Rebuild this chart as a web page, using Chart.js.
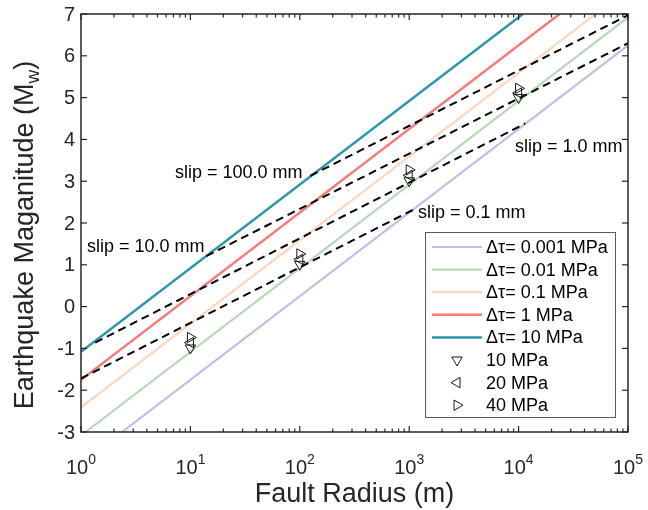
<!DOCTYPE html>
<html>
<head>
<meta charset="utf-8">
<script src="https://cdn.jsdelivr.net/npm/chart.js@4.4.1/dist/chart.umd.min.js"></script>
<style>
  html, body { margin: 0; padding: 0; background: #fff; }
</style>
</head>
<body>
<canvas id="magChart" width="648" height="510"></canvas>
<script>
// ---- data ----
const stressLabels = ["Δτ= 0.001 MPa", "Δτ= 0.01 MPa", "Δτ= 0.1 MPa", "Δτ= 1 MPa", "Δτ= 10 MPa"];
const stressX = [[2.37, 100000], [1.1, 100000], [1, 50700], [1, 23700], [1, 10960]];
const stressY = [[-3, 6.25], [-3, 6.92], [-2.41, 7], [-1.75, 7], [-1.08, 7]];

const slipLabels = ["slip = 0.1 mm", "slip = 1.0 mm", "slip = 10.0 mm", "slip = 100.0 mm"];
const slipX = [[1, 1150], [1.35, 11500], [14, 100000], [125, 100000]];
const slipY = [[-1.72, 2.35], [-0.86, 4.38], [1.21, 6.3], [3.13, 6.97]];

const markerLabels = ["10 MPa", "20 MPa", "40 MPa"];
const markerX = [10, 100, 1000, 10000];
const mark10 = [-0.99, 1.01, 3.01, 5.0];
const mark20 = [-0.86, 1.13, 3.14, 5.11];
const mark40 = [-0.74, 1.26, 3.27, 5.22];

const yTicks = [-3, -2, -1, 0, 1, 2, 3, 4, 5, 6, 7];
const xTickPowers = [0, 1, 2, 3, 4, 5];

// ---- styling ----
const FONT = "'Liberation Sans', Arial, sans-serif";
const AXIS = "#262626";
const stressColors = ["#c9b8e8", "#b6d8b4", "#fdd5bd", "#f47c7c", "#2c97ab"];
const markerRot = [180, 270, 90];

// where the slip notes sit (data coords of text start / baseline)
const noteAnchors = [[1203, 2.12], [9270, 3.71], [1.135, 1.31], [7.23, 3.08]];

const pairs = (xs, ys) => xs.map((v, i) => ({ x: v, y: ys[i] }));

const datasets = [];
stressLabels.forEach((lab, i) => {
  datasets.push({
    label: lab, data: pairs(stressX[i], stressY[i]), showLine: true,
    borderColor: stressColors[i], borderWidth: i >= 3 ? 2.5 : 2.2, pointRadius: 0, order: 3,
    legendKind: "line"
  });
});
slipLabels.forEach((lab, i) => {
  datasets.push({
    label: lab, data: pairs(slipX[i], slipY[i]), showLine: true,
    borderColor: "#000", borderWidth: 2, borderDash: [8, 5], pointRadius: 0, order: 2
  });
});
[mark10, mark20, mark40].forEach((vals, i) => {
  datasets.push({
    label: markerLabels[i], data: pairs(markerX, vals), showLine: false,
    pointStyle: "triangle", pointRotation: markerRot[i], pointRadius: 6,
    pointBorderColor: "#000", pointBorderWidth: 0.9, pointBackgroundColor: "rgba(0,0,0,0)",
    order: 1, legendKind: "marker", rot: markerRot[i]
  });
});

function tri(ctx, cx, cy, r, deg) {
  const rad = deg * Math.PI / 180;
  ctx.beginPath();
  for (let k = 0; k < 3; k++) {
    const a = rad + k * 2 * Math.PI / 3;
    const px = cx + Math.sin(a) * r, py = cy - Math.cos(a) * r;
    if (k === 0) ctx.moveTo(px, py); else ctx.lineTo(px, py);
  }
  ctx.closePath();
  ctx.stroke();
}

function seg(ctx, x1, y1, x2, y2) {
  ctx.beginPath(); ctx.moveTo(x1, y1); ctx.lineTo(x2, y2); ctx.stroke();
}

const decor = {
  id: "decor",
  afterDraw(chart) {
    const { ctx, chartArea: a } = chart;
    const xs = chart.scales.x, ys = chart.scales.y;
    ctx.save();

    // axes box
    ctx.strokeStyle = AXIS;
    ctx.lineWidth = 1.5;
    ctx.strokeRect(a.left, a.top, a.right - a.left, a.bottom - a.top);

    // ticks (inward, all four sides)
    ctx.lineWidth = 1.2;
    yTicks.forEach(v => {
      const py = ys.getPixelForValue(v);
      seg(ctx, a.left, py, a.left + 6, py);
      seg(ctx, a.right, py, a.right - 6, py);
    });
    xTickPowers.forEach((p, i) => {
      const px = xs.getPixelForValue(Math.pow(10, p));
      seg(ctx, px, a.bottom, px, a.bottom - 6);
      seg(ctx, px, a.top, px, a.top + 6);
      if (i < xTickPowers.length - 1) {
        for (let m = 2; m <= 9; m++) {
          const mx = xs.getPixelForValue(m * Math.pow(10, p));
          seg(ctx, mx, a.bottom, mx, a.bottom - 3.5);
          seg(ctx, mx, a.top, mx, a.top + 3.5);
        }
      }
    });

    // tick labels
    ctx.fillStyle = AXIS;
    ctx.font = "20px " + FONT;
    ctx.textAlign = "right";
    ctx.textBaseline = "middle";
    yTicks.forEach(v => ctx.fillText(String(v), a.left - 6, ys.getPixelForValue(v) + 1));

    ctx.textBaseline = "alphabetic";
    ctx.textAlign = "left";
    xTickPowers.forEach(p => {
      const px = xs.getPixelForValue(Math.pow(10, p));
      ctx.font = "20px " + FONT;
      const wb = ctx.measureText("10").width;
      ctx.font = "14px " + FONT;
      const ws = ctx.measureText(String(p)).width;
      const x0 = px - (wb + ws) / 2;
      ctx.font = "20px " + FONT;
      ctx.fillText("10", x0, a.bottom + 42);
      ctx.font = "14px " + FONT;
      ctx.fillText(String(p), x0 + wb, a.bottom + 32);
    });

    // axis titles
    ctx.font = "27px " + FONT;
    ctx.textAlign = "center";
    ctx.fillText("Fault Radius (m)", (a.left + a.right) / 2, 502);

    ctx.save();
    ctx.translate(33, 235);
    ctx.rotate(-Math.PI / 2);
    ctx.textAlign = "left";
    const t1 = "Earthquake Maganitude (M", t2 = "w", t3 = ")";
    ctx.font = "27px " + FONT;
    const w1 = ctx.measureText(t1).width, w3 = ctx.measureText(t3).width;
    ctx.font = "19px " + FONT;
    const w2 = ctx.measureText(t2).width;
    let cx = -(w1 + w2 + w3) / 2;
    ctx.font = "27px " + FONT;
    ctx.fillText(t1, cx, 0);
    ctx.font = "19px " + FONT;
    ctx.fillText(t2, cx + w1, 6);
    ctx.font = "27px " + FONT;
    ctx.fillText(t3, cx + w1 + w2, 0);
    ctx.restore();

    // slip notes
    ctx.fillStyle = "#000";
    ctx.font = "18px " + FONT;
    ctx.textAlign = "left";
    slipLabels.forEach((lab, i) => {
      ctx.fillText(lab, xs.getPixelForValue(noteAnchors[i][0]), ys.getPixelForValue(noteAnchors[i][1]));
    });

    // legend
    const items = chart.data.datasets.filter(d => d.legendKind);
    const bx = 425.5, by = 232.5, bw = 190, bh = 185;
    ctx.fillStyle = "#fff";
    ctx.fillRect(bx, by, bw, bh);
    ctx.strokeStyle = "#5a5a5a";
    ctx.lineWidth = 1;
    ctx.strokeRect(bx, by, bw, bh);
    ctx.font = "18px " + FONT;
    ctx.textBaseline = "middle";
    items.forEach((d, i) => {
      const ry = 247 + i * 22.6;
      if (d.legendKind === "line") {
        ctx.strokeStyle = d.borderColor;
        ctx.lineWidth = d.borderWidth;
        seg(ctx, 432, ry, 482, ry);
      } else {
        ctx.strokeStyle = "#000";
        ctx.lineWidth = 0.9;
        tri(ctx, 457, ry, 6, d.rot);
      }
      ctx.fillStyle = "#000";
      ctx.fillText(d.label, 486, ry + 1);
    });

    ctx.restore();
  }
};

new Chart(document.getElementById("magChart").getContext("2d"), {
  type: "scatter",
  data: { datasets },
  options: {
    responsive: false,
    animation: false,
    devicePixelRatio: 1,
    layout: { padding: { left: 81, right: 20, top: 14, bottom: 78 } },
    plugins: { legend: { display: false }, tooltip: { enabled: false } },
    scales: {
      x: { type: "logarithmic", min: 1, max: 100000, display: false },
      y: { type: "linear", min: -3, max: 7, display: false }
    }
  },
  plugins: [decor]
});
</script>
</body>
</html>
